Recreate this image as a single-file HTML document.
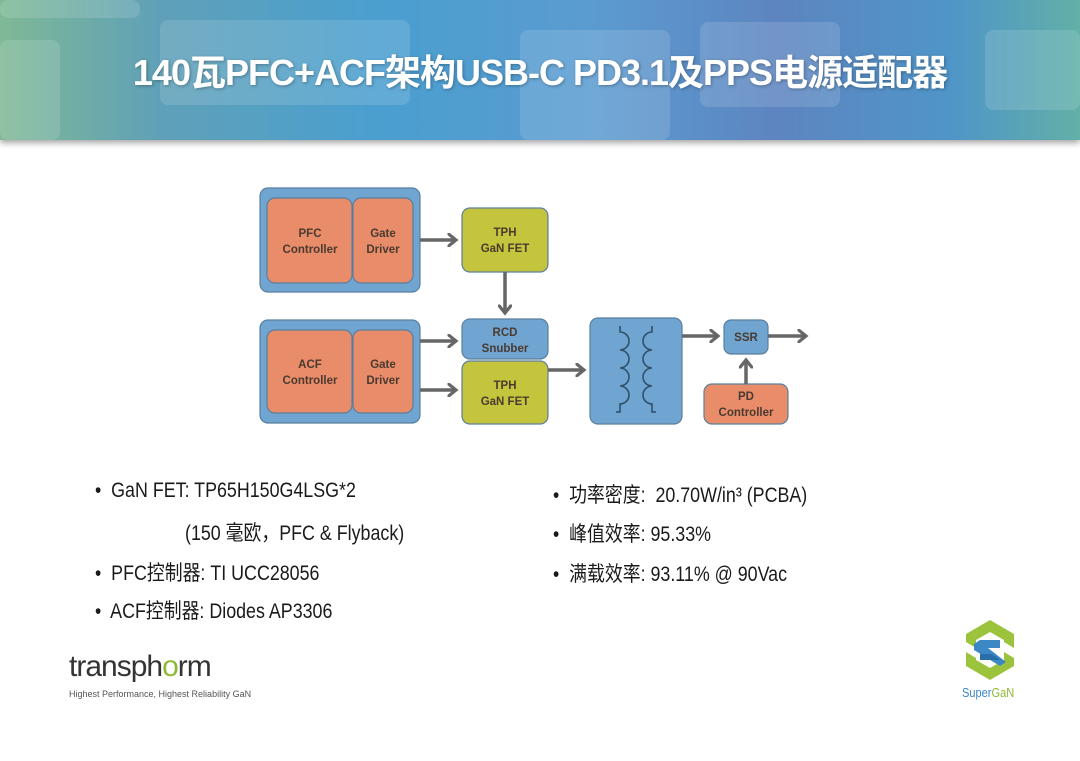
<!DOCTYPE html>
<html><head><meta charset="utf-8"><style>
body{margin:0;width:1080px;height:761px;overflow:hidden;background:#fff;font-family:"Liberation Sans","Noto Sans CJK SC",sans-serif;position:relative}
#hdr{position:absolute;left:0;top:0;width:1080px;height:140px;background:linear-gradient(90deg,#7fb995 0%,#5fa0b8 15%,#4a9fd0 35%,#5b9bd0 55%,#5d85c0 72%,#4f95c8 88%,#62b0a8 100%);overflow:hidden;box-shadow:0 3px 6px rgba(0,0,0,.35)}
#hdr .sq{position:absolute;background:rgba(255,255,255,.13);border-radius:8px}
#title{position:absolute;left:0;top:44px;width:1080px;text-align:center;color:#fff;font-weight:bold;font-size:36px;letter-spacing:-1px;font-family:"Liberation Sans Narrow","Liberation Sans","Noto Sans CJK SC",sans-serif;text-shadow:1px 1px 3px rgba(0,0,0,.3)}
.t{position:absolute;font-size:21px;color:#1a1a1a;font-family:"Liberation Sans Narrow","Liberation Sans","Noto Sans CJK SC",sans-serif;white-space:nowrap;transform-origin:left top;transform:scaleX(.85)}
</style></head><body>
<div id="hdr">
<div class="sq" style="left:0;top:40px;width:60px;height:100px"></div>
<div class="sq" style="left:160px;top:20px;width:250px;height:85px"></div>
<div class="sq" style="left:520px;top:30px;width:150px;height:110px"></div>
<div class="sq" style="left:700px;top:22px;width:140px;height:85px"></div>
<div class="sq" style="left:985px;top:30px;width:95px;height:80px"></div>
<div class="sq" style="left:0;top:0;width:140px;height:18px"></div>
</div>
<div id="title">140瓦PFC+ACF架构USB-C PD3.1及PPS电源适配器</div>
<svg width="1080" height="761" style="position:absolute;left:0;top:0" font-family="Liberation Sans Narrow,Liberation Sans,sans-serif" font-size="11.5" font-weight="bold" text-anchor="middle" fill="#4a3a30">
<defs><marker id="a" markerWidth="4" markerHeight="4" refX="2.2" refY="2" orient="auto"><path d="M0,0 L2.5,2 L0,4" fill="none" stroke="#666" stroke-width="0.9"/></marker></defs>
<g stroke="#5a7f9e" stroke-width="1.2">
<rect x="260" y="188" width="160" height="104" rx="8" fill="#6fa5d0"/>
<rect x="260" y="320" width="160" height="103" rx="8" fill="#6fa5d0"/>
<rect x="267" y="198" width="85" height="85" rx="8" fill="#e98c69"/>
<rect x="353" y="198" width="60" height="85" rx="8" fill="#e98c69"/>
<rect x="267" y="330" width="85" height="83" rx="8" fill="#e98c69"/>
<rect x="353" y="330" width="60" height="83" rx="8" fill="#e98c69"/>
<rect x="462" y="208" width="86" height="64" rx="8" fill="#c4c53c"/>
<rect x="462" y="319" width="86" height="40" rx="8" fill="#6fa5d0"/>
<rect x="462" y="361" width="86" height="63" rx="8" fill="#c4c53c"/>
<rect x="590" y="318" width="92" height="106" rx="8" fill="#6fa5d0"/>
<rect x="724" y="320" width="44" height="34" rx="7" fill="#6fa5d0"/>
<rect x="704" y="384" width="84" height="40" rx="8" fill="#e98c69"/>
</g>
<g stroke="#666" stroke-width="3.5" fill="none" marker-end="url(#a)">
<line x1="420" y1="240" x2="455" y2="240"/>
<line x1="505" y1="272" x2="505" y2="312"/>
<line x1="420" y1="341" x2="455" y2="341"/>
<line x1="420" y1="390" x2="455" y2="390"/>
<line x1="548" y1="370" x2="583" y2="370"/>
<line x1="682" y1="336" x2="717" y2="336"/>
<line x1="768" y1="336" x2="805" y2="336"/>
<line x1="746" y1="384" x2="746" y2="361"/>
</g>
<g stroke="#2f4f6a" stroke-width="1.6" fill="none">
<path d="M620,326 v6 a9,9 0 0 1 0,18 a9,9 0 0 1 0,18 a9,9 0 0 1 0,18 a9,9 0 0 1 0,18 v8 h-4"/>
<path d="M652,326 v6 a9,9 0 0 0 0,18 a9,9 0 0 0 0,18 a9,9 0 0 0 0,18 a9,9 0 0 0 0,18 v8 h4"/>
</g>
<text x="310" y="237">PFC</text><text x="310" y="253">Controller</text>
<text x="383" y="237">Gate</text><text x="383" y="253">Driver</text>
<text x="310" y="368">ACF</text><text x="310" y="384">Controller</text>
<text x="383" y="368">Gate</text><text x="383" y="384">Driver</text>
<text x="505" y="236">TPH</text><text x="505" y="252">GaN FET</text>
<text x="505" y="336">RCD</text><text x="505" y="352">Snubber</text>
<text x="505" y="389">TPH</text><text x="505" y="405">GaN FET</text>
<text x="746" y="341">SSR</text>
<text x="746" y="400">PD</text><text x="746" y="416">Controller</text>
</svg>
<div class="t" style="left:95px;top:479px">•&nbsp; GaN FET: TP65H150G4LSG*2</div>
<div class="t" style="left:185px;top:517px">(150 毫欧，PFC &amp; Flyback)</div>
<div class="t" style="left:95px;top:557px">•&nbsp; PFC控制器: TI UCC28056</div>
<div class="t" style="left:95px;top:595px">•&nbsp; ACF控制器: Diodes AP3306</div>
<div class="t" style="left:553px;top:479px">•&nbsp; 功率密度:&nbsp; 20.70W/in³ (PCBA)</div>
<div class="t" style="left:553px;top:518px">•&nbsp; 峰值效率: 95.33%</div>
<div class="t" style="left:553px;top:558px">•&nbsp; 满载效率: 93.11% @ 90Vac</div>
<div style="position:absolute;left:69px;top:650px;font-size:30px;color:#333;letter-spacing:-1px">transph<span style="color:#8fb935">o</span>rm</div>
<div style="position:absolute;left:69px;top:689px;font-size:9px;color:#555">Highest Performance, Highest Reliability GaN</div>
<svg width="60" height="64" style="position:absolute;left:960px;top:618px" viewBox="0 0 60 64">
<path d="M30,2 L54,16 L54,30 L44,24 L44,22 L30,14 L16,22 L16,30 L6,24 L6,16 Z" fill="#9cc33c"/>
<path d="M30,62 L6,48 L6,34 L16,40 L16,42 L30,50 L44,42 L44,34 L54,40 L54,48 Z" fill="#9cc33c"/>
<path d="M20,22 L40,22 L40,30 L28,30 L46,44 L40,48 L14,32 L14,26 Z" fill="#3c88c4"/>
<path d="M40,42 L20,42 L20,36 L32,36 Z" fill="#2a6ea8"/>
</svg>
<div style="position:absolute;left:962px;top:685px;font-size:13px;color:#3c88c4;transform:scaleX(.85);transform-origin:left">Super<span style="color:#8fb935">GaN</span></div>
</body></html>
